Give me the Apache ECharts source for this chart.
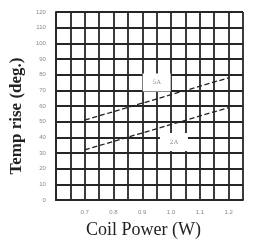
<!DOCTYPE html>
<html>
<head>
<meta charset="utf-8">
<script src="https://cdn.jsdelivr.net/npm/echarts@6/dist/echarts.min.js"></script>
<style>
    html, body { margin: 0; padding: 0; background: #fff; }
    #chart { width: 253px; height: 246px; }
</style>
</head>
<body>
<div id="chart"></div>
<script>
// 数据
var xTickLabels = ['0.7', '0.8', '0.9', '1.0', '1.1', '1.2'];
var upperLine = [[0.7, 51], [1.2, 78]];
var lowerLine = [[0.7, 32], [1.2, 59]];
var upperTag = { name: '5A', coord: [0.95, 75] };
var lowerTag = { name: '2A', coord: [1.01, 37] };

window.onload = function () {
    initChart();
}

function tag(t) {
    return {
        symbol: 'rect',
        symbolSize: [28, 18],
        itemStyle: { color: '#fff' },
        label: { show: true, position: 'inside', color: '#888', fontSize: 6, fontFamily: 'DejaVu Serif', formatter: t.name },
        data: [{ coord: t.coord }]
    };
}

function initChart() {
    var chart = echarts.init(document.getElementById('chart'));
    var gridLine = { color: '#262626', width: 1.8 };
    chart.setOption({
        animation: false,
        grid: { left: 55, right: 10, top: 12, bottom: 46 },
        xAxis: {
            type: 'value',
            min: 0.6,
            max: 1.25,
            interval: 0.05,
            name: 'Coil Power (W)',
            nameLocation: 'middle',
            nameGap: 21,
            nameTextStyle: { fontFamily: 'Liberation Serif', fontSize: 18, color: '#222', padding: [0, 12, 0, 0] },
            axisLine: { show: true, lineStyle: gridLine },
            axisTick: { show: false },
            splitLine: { show: true, lineStyle: gridLine },
            axisLabel: {
                fontSize: 6, color: '#888', margin: 9,
                formatter: function (v) {
                    var s = (Math.round(v * 100) / 100).toFixed(2);
                    var t = (Math.round(v * 10) / 10).toFixed(1);
                    return (s.slice(-1) === '0' && xTickLabels.indexOf(t) >= 0) ? t : '';
                }
            }
        },
        yAxis: {
            type: 'value',
            min: 0,
            max: 120,
            interval: 10,
            name: 'Temp rise (deg.)',
            nameLocation: 'middle',
            nameGap: 10,
            nameTextStyle: { fontFamily: 'Liberation Serif', fontSize: 17, fontWeight: 'bold', color: '#222', padding: [0, 20, 0, 0] },
            axisLine: { show: true, lineStyle: gridLine },
            axisTick: { show: false },
            splitLine: { show: true, lineStyle: gridLine },
            axisLabel: { fontSize: 6, color: '#888', margin: 10 }
        },
        series: [{
            type: 'line',
            data: upperLine,
            symbol: 'none',
            lineStyle: { color: '#222', width: 1.3, type: 'dashed' },
            markPoint: tag(upperTag),
            z: 5
        }, {
            type: 'line',
            data: lowerLine,
            symbol: 'none',
            lineStyle: { color: '#222', width: 1.3, type: 'dashed' },
            markPoint: tag(lowerTag),
            z: 5
        }]
    });
}
</script>
</body>
</html>
